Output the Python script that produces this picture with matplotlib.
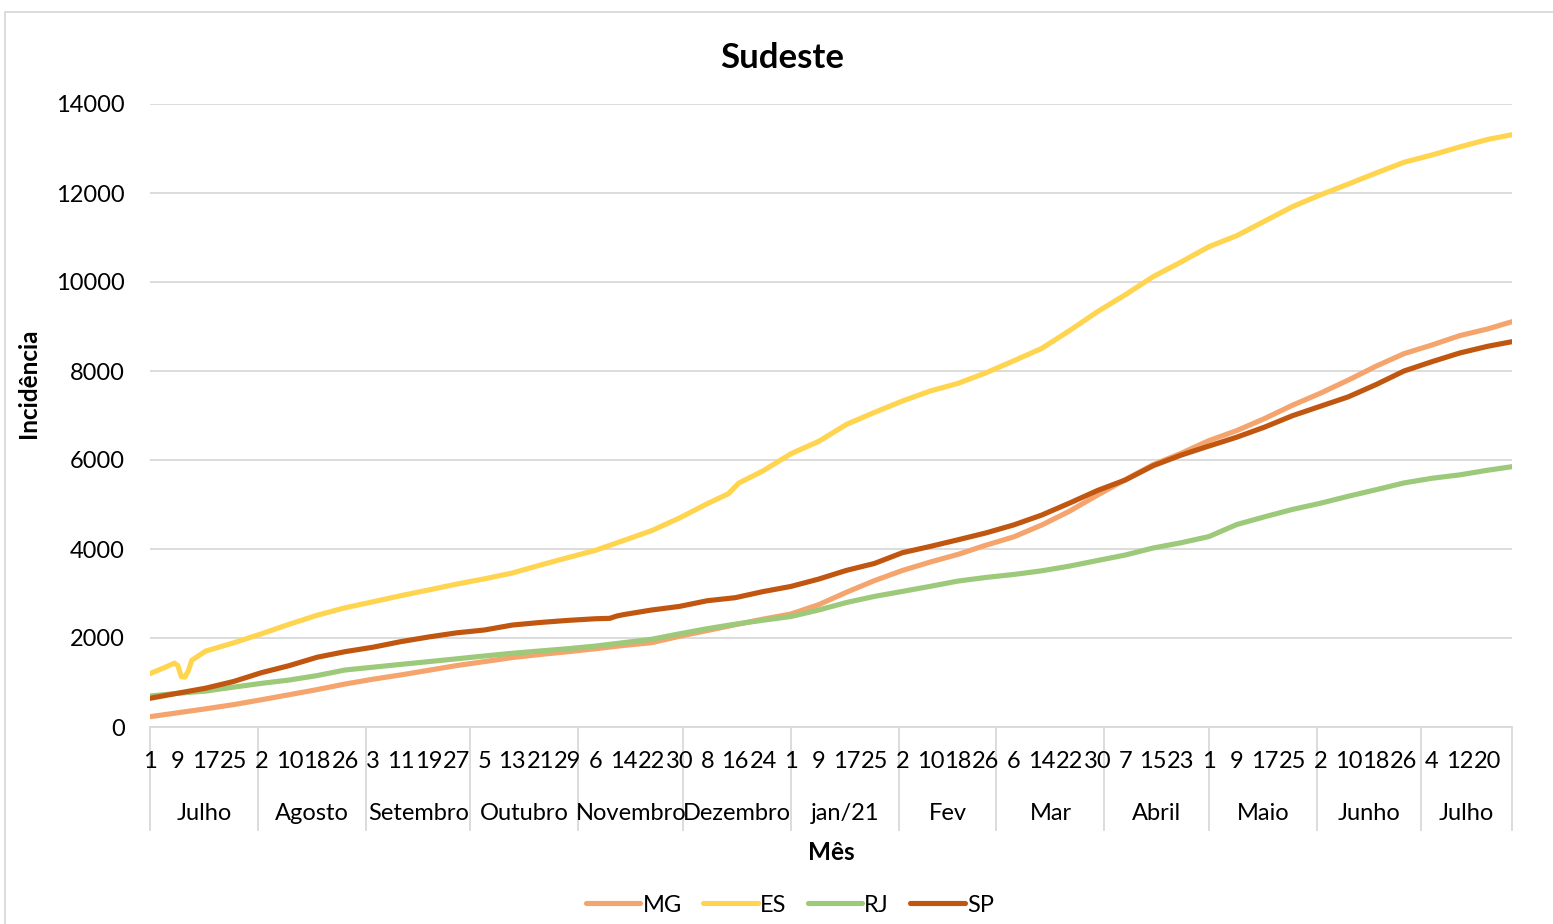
import numpy as np
import pandas as pd
import matplotlib
matplotlib.use("Agg")
import matplotlib.pyplot as plt
from matplotlib.lines import Line2D
from matplotlib.patches import Rectangle

plt.rcParams['font.family'] = ['Lato', 'DejaVu Sans']

# Daily category axis: 1 Jul 2020 .. 27 Jul 2021
first_date, last_date = "2020-07-01", "2021-07-27"
month_labels = ["Julho", "Agosto", "Setembro", "Outubro", "Novembro", "Dezembro",
                "jan/21", "Fev", "Mar", "Abril", "Maio", "Junho", "Julho"]

# Cumulative incidence sampled along the day index
sample_day = [0, 8, 16, 24, 32, 40, 48, 56, 64, 72, 80, 88, 96, 104, 112, 120,
              128, 136, 144, 152, 160, 168, 176, 184, 192, 200, 208, 216, 224,
              232, 240, 248, 256, 264, 272, 280, 288, 296, 304, 312, 320, 328,
              336, 344, 352, 360, 368, 376, 384, 391]

mg_values = [232, 320, 409, 503, 613, 726, 841, 966, 1074, 1170, 1275, 1380,
             1470, 1560, 1630, 1692, 1759, 1833, 1895, 2038, 2168, 2298, 2424,
             2540, 2750, 3030, 3290, 3518, 3707, 3880, 4086, 4274, 4539, 4851,
             5211, 5558, 5895, 6150, 6436, 6661, 6932, 7232, 7501, 7796, 8109,
             8390, 8584, 8795, 8945, 9108]

es_day = [0, 4, 7, 8, 9, 10, 11, 12, 16, 24, 32, 40, 48, 56, 64, 72, 80, 88, 96,
          104, 112, 120, 128, 136, 144, 152, 160, 166, 169, 176, 184, 192, 200,
          208, 216, 224, 232, 240, 248, 256, 264, 272, 280, 288, 296, 304, 312,
          320, 328, 336, 344, 352, 360, 368, 376, 384, 391]
es_values = [1200, 1330, 1435, 1380, 1130, 1120, 1260, 1500, 1707, 1891, 2095,
             2310, 2512, 2679, 2814, 2951, 3080, 3211, 3330, 3460, 3638, 3807,
             3973, 4192, 4412, 4697, 5019, 5240, 5480, 5757, 6141, 6420, 6802,
             7071, 7326, 7551, 7723, 7960, 8230, 8508, 8909, 9333, 9714, 10121,
             10450, 10794, 11042, 11368, 11694, 11958, 12201, 12450, 12690,
             12854, 13035, 13203, 13310]

rj_values = [697, 757, 808, 896, 981, 1056, 1156, 1281, 1344, 1407, 1469, 1532,
             1596, 1657, 1709, 1760, 1820, 1896, 1971, 2094, 2210, 2311, 2399,
             2483, 2630, 2799, 2935, 3047, 3161, 3280, 3361, 3428, 3510, 3616,
             3741, 3865, 4023, 4140, 4280, 4550, 4724, 4890, 5028, 5185, 5333,
             5485, 5589, 5666, 5770, 5850]

sp_day = [0, 8, 16, 24, 32, 40, 48, 56, 64, 72, 80, 88, 96, 104, 112, 120, 128,
          132, 134, 136, 144, 152, 160, 168, 176, 184, 192, 200, 208, 216, 224,
          232, 240, 248, 256, 264, 272, 280, 288, 296, 304, 312, 320, 328, 336,
          344, 352, 360, 368, 376, 384, 391]
sp_values = [645, 760, 873, 1023, 1221, 1380, 1568, 1693, 1793, 1918, 2023,
             2116, 2180, 2291, 2349, 2396, 2433, 2442, 2494, 2526, 2629, 2710,
             2838, 2906, 3043, 3159, 3325, 3521, 3676, 3917, 4058, 4208, 4362,
             4542, 4763, 5033, 5315, 5551, 5872, 6110, 6314, 6513, 6740, 6996,
             7208, 7419, 7696, 8000, 8209, 8405, 8555, 8659]

series = [
    ("MG", sample_day, mg_values, "#F4A46C"),
    ("ES", es_day, es_values, "#FFD44F"),
    ("RJ", sample_day, rj_values, "#9CC97A"),
    ("SP", sp_day, sp_values, "#C0560F"),
]

dates = pd.date_range(first_date, last_date, freq="D")
n = len(dates)

W, H = 1553, 924
fig = plt.figure(figsize=(W / 100, H / 100), dpi=100)
fig.patch.set_facecolor("white")

# chart area border
fig.patches.append(Rectangle((5 / W, -0.05), 1.2, 1 - 12 / H + 0.05,
                             transform=fig.transFigure, fill=False,
                             edgecolor="#D9D9D9", lw=1.3))

ax_l, ax_r, ax_t, ax_b = 150, 1512, 104, 727
ax = fig.add_axes([ax_l / W, 1 - ax_b / H, (ax_r - ax_l) / W, (ax_b - ax_t) / H])

fs = 17
grid_c = "#D9D9D9"
lw = 3.7

for name, days, vals, col in series:
    ax.plot(days, vals, color=col, lw=lw, label=name,
            solid_capstyle="round", solid_joinstyle="round", zorder=3)

ax.set_xlim(0, n - 1)
ax.set_ylim(0, 14000)
ax.set_yticks(np.arange(0, 14001, 2000))
ax.yaxis.grid(True, color=grid_c, lw=1.3)
ax.set_axisbelow(True)
for s in ["top", "right", "left"]:
    ax.spines[s].set_visible(False)
ax.spines["bottom"].set_color(grid_c)
ax.spines["bottom"].set_linewidth(1.3)
ax.set_xticks([])
ax.tick_params(axis="y", length=0, pad=18, labelsize=fs, labelcolor="black")

# multi-level category axis
ph = ax_b - ax_t
xt = ax.get_xaxis_transform()
y_day = -(762 - ax_b) / ph
y_month = -(813 - ax_b) / ph
y_sep = -(830 - ax_b) / ph

for i in range(0, n, 8):
    ax.text(i, y_day, str(dates[i].day), transform=xt, ha="center", va="center",
            fontsize=fs, clip_on=False)

period = dates.to_period("M")
bounds = [0] + [i for i in range(1, n) if period[i] != period[i - 1]] + [n - 1]
for b in bounds:
    ax.add_line(Line2D([b, b], [0, y_sep], transform=xt, color=grid_c, lw=1.3,
                       clip_on=False))
for k, lab in enumerate(month_labels):
    ax.text((bounds[k] + bounds[k + 1]) / 2, y_month, lab, transform=xt,
            ha="center", va="center", fontsize=fs, clip_on=False)

fig.text(782 / W, 1 - 58 / H, "Sudeste", ha="center", va="center",
         fontsize=25, fontweight="bold")
fig.text(28 / W, 1 - 383 / H, "Incidência", ha="center", va="center",
         rotation=90, fontsize=17.5, fontweight="bold")
fig.text(831 / W, 1 - 852 / H, "Mês", ha="center", va="center",
         fontsize=17.5, fontweight="bold")

handles = [Line2D([], [], color=c, lw=lw, solid_capstyle="round")
           for _, _, _, c in series]
fig.legend(handles, [s[0] for s in series], loc="center",
           bbox_to_anchor=(790 / W, 1 - 905 / H), ncol=4, frameon=False,
           handlelength=2.3, handletextpad=0.1, columnspacing=0.9, fontsize=fs)

fig.savefig("out.png", dpi=100)
